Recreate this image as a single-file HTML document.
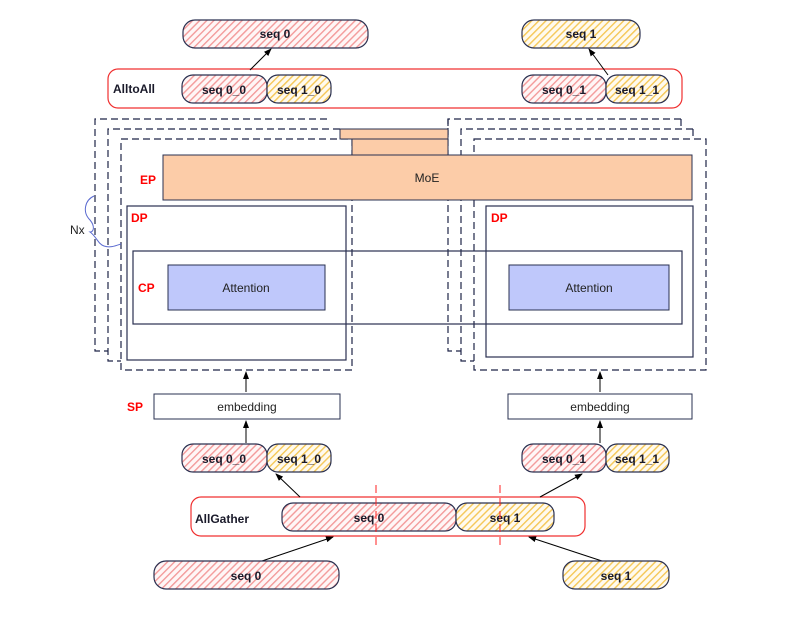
<!DOCTYPE html>
<html><head><meta charset="utf-8"><style>
html,body{margin:0;padding:0;background:#fff;width:802px;height:626px;overflow:hidden}
text{font-family:"Liberation Sans",sans-serif}
.b{font-weight:bold;font-size:12px;fill:#1a1a2a}
.r{font-weight:bold;font-size:12px;fill:#ff0000}
.n{font-size:12px;fill:#222}
</style></head><body>
<svg width="802" height="626" viewBox="0 0 802 626" xmlns="http://www.w3.org/2000/svg">
<defs>
<pattern id="pr" patternUnits="userSpaceOnUse" width="5" height="5" patternTransform="rotate(45)">
<rect width="5" height="5" fill="#fff6f6"/><rect width="1.4" height="5" fill="#f39a9a"/></pattern>
<pattern id="py" patternUnits="userSpaceOnUse" width="5" height="5" patternTransform="rotate(45)">
<rect width="5" height="5" fill="#fffaee"/><rect width="1.4" height="5" fill="#f5c756"/></pattern>
<marker id="ar" markerWidth="8" markerHeight="8" refX="7" refY="4" orient="auto" markerUnits="userSpaceOnUse">
<path d="M0,1 L8,4 L0,7 z" fill="#000"/></marker>
</defs>
<g stroke="#2a3050" stroke-width="1.2">
<rect x="183" y="20" width="185" height="28" rx="12" fill="url(#pr)"/>
<rect x="522" y="20" width="118" height="28" rx="12" fill="url(#py)"/>
</g>
<text x="275" y="38" class="b" text-anchor="middle">seq 0</text>
<text x="581" y="38" class="b" text-anchor="middle">seq 1</text>
<rect x="108" y="69" width="574" height="39" rx="10" fill="none" stroke="#f03030" stroke-width="1.2"/>
<text x="113" y="93" class="b">AlltoAll</text>
<g stroke="#2a3050" stroke-width="1.2">
<rect x="182" y="75" width="85" height="28" rx="11" fill="url(#pr)"/>
<rect x="267" y="75" width="64" height="28" rx="11" fill="url(#py)"/>
<rect x="522" y="75" width="84" height="28" rx="11" fill="url(#pr)"/>
<rect x="606" y="75" width="63" height="28" rx="11" fill="url(#py)"/>
</g>
<text x="224" y="94" class="b" text-anchor="middle">seq 0_0</text>
<text x="299" y="94" class="b" text-anchor="middle">seq 1_0</text>
<text x="564" y="94" class="b" text-anchor="middle">seq 0_1</text>
<text x="637" y="94" class="b" text-anchor="middle">seq 1_1</text>
<g stroke="#000" stroke-width="1" marker-end="url(#ar)">
<line x1="250" y1="70" x2="271" y2="49"/>
<line x1="608" y1="75" x2="589" y2="49"/>
</g>
<g fill="none" stroke="#1e2448" stroke-width="1.2" stroke-dasharray="7,4">
<path d="M327,119 H95 V351 H108"/>
<path d="M340,129 H108 V361 H121"/>
<rect x="121" y="139" width="231" height="231"/>
<path d="M681,119 H448 V351 H461"/>
<path d="M681,119 V129"/>
<path d="M693,129 H461 V361 H474"/>
<path d="M693,129 V139"/>
<rect x="474" y="139" width="232" height="231"/>
<path d="M448,119 V139"/>
</g>
<g stroke="#2a3050" stroke-width="1" fill="#fccca8">
<rect x="340" y="129" width="108" height="10"/>
<rect x="352" y="139" width="96" height="16"/>
<rect x="163" y="155" width="529" height="45"/>
</g>
<text x="427" y="182" class="n" text-anchor="middle">MoE</text>
<text x="140" y="184" class="r">EP</text>
<g fill="none" stroke="#2a3050" stroke-width="1.2">
<rect x="127" y="206" width="219" height="154"/>
<rect x="486" y="206" width="207" height="151"/>
<rect x="133" y="251" width="549" height="73"/>
</g>
<text x="131" y="222" class="r">DP</text>
<text x="491" y="222" class="r">DP</text>
<text x="138" y="292" class="r">CP</text>
<g stroke="#2a3050" stroke-width="1" fill="#bfc8fb">
<rect x="168" y="265" width="157" height="45"/>
<rect x="509" y="265" width="160" height="45"/>
</g>
<text x="246" y="292" class="n" text-anchor="middle">Attention</text>
<text x="589" y="292" class="n" text-anchor="middle">Attention</text>
<text x="70" y="234" class="n" fill="#444">Nx</text>
<path d="M94,196 C85,200 82,212 90,220 C95,226 94,232 90,232 C96,236 98,244 104,246 C110,248 115,246 121,244" fill="none" stroke="#5a6ad0" stroke-width="1"/>
<g fill="#fff" stroke="#2a3050" stroke-width="1">
<rect x="154" y="394" width="186" height="25"/>
<rect x="508" y="394" width="184" height="25"/>
</g>
<text x="247" y="411" class="n" text-anchor="middle">embedding</text>
<text x="600" y="411" class="n" text-anchor="middle">embedding</text>
<text x="127" y="411" class="r">SP</text>
<g stroke="#000" stroke-width="1" marker-end="url(#ar)">
<line x1="246" y1="392" x2="246" y2="372"/>
<line x1="600" y1="392" x2="600" y2="372"/>
<line x1="246" y1="443" x2="246" y2="421"/>
<line x1="600" y1="443" x2="600" y2="421"/>
</g>
<g stroke="#2a3050" stroke-width="1.2">
<rect x="182" y="444" width="85" height="28" rx="11" fill="url(#pr)"/>
<rect x="267" y="444" width="64" height="28" rx="11" fill="url(#py)"/>
<rect x="522" y="444" width="84" height="28" rx="11" fill="url(#pr)"/>
<rect x="606" y="444" width="63" height="28" rx="11" fill="url(#py)"/>
</g>
<text x="224" y="463" class="b" text-anchor="middle">seq 0_0</text>
<text x="299" y="463" class="b" text-anchor="middle">seq 1_0</text>
<text x="564" y="463" class="b" text-anchor="middle">seq 0_1</text>
<text x="637" y="463" class="b" text-anchor="middle">seq 1_1</text>
<rect x="191" y="497" width="394" height="39" rx="10" fill="none" stroke="#f03030" stroke-width="1.2"/>
<text x="195" y="523" class="b">AllGather</text>
<g stroke="#2a3050" stroke-width="1.2">
<rect x="282" y="503" width="174" height="28" rx="11" fill="url(#pr)"/>
<rect x="456" y="503" width="98" height="28" rx="11" fill="url(#py)"/>
</g>
<text x="369" y="522" class="b" text-anchor="middle">seq 0</text>
<text x="505" y="522" class="b" text-anchor="middle">seq 1</text>
<g stroke="#ff2020" stroke-width="1" stroke-dasharray="8,5">
<line x1="376" y1="485" x2="376" y2="550"/>
<line x1="500" y1="485" x2="500" y2="550"/>
</g>
<g stroke="#000" stroke-width="1" marker-end="url(#ar)">
<line x1="300" y1="497" x2="276" y2="474"/>
<line x1="540" y1="497" x2="582" y2="474"/>
<line x1="262" y1="561" x2="333" y2="537"/>
<line x1="605" y1="562" x2="529" y2="537"/>
</g>
<g stroke="#2a3050" stroke-width="1.2">
<rect x="154" y="561" width="185" height="28" rx="12" fill="url(#pr)"/>
<rect x="563" y="561" width="106" height="28" rx="12" fill="url(#py)"/>
</g>
<text x="246" y="580" class="b" text-anchor="middle">seq 0</text>
<text x="616" y="580" class="b" text-anchor="middle">seq 1</text>
</svg>
</body></html>
